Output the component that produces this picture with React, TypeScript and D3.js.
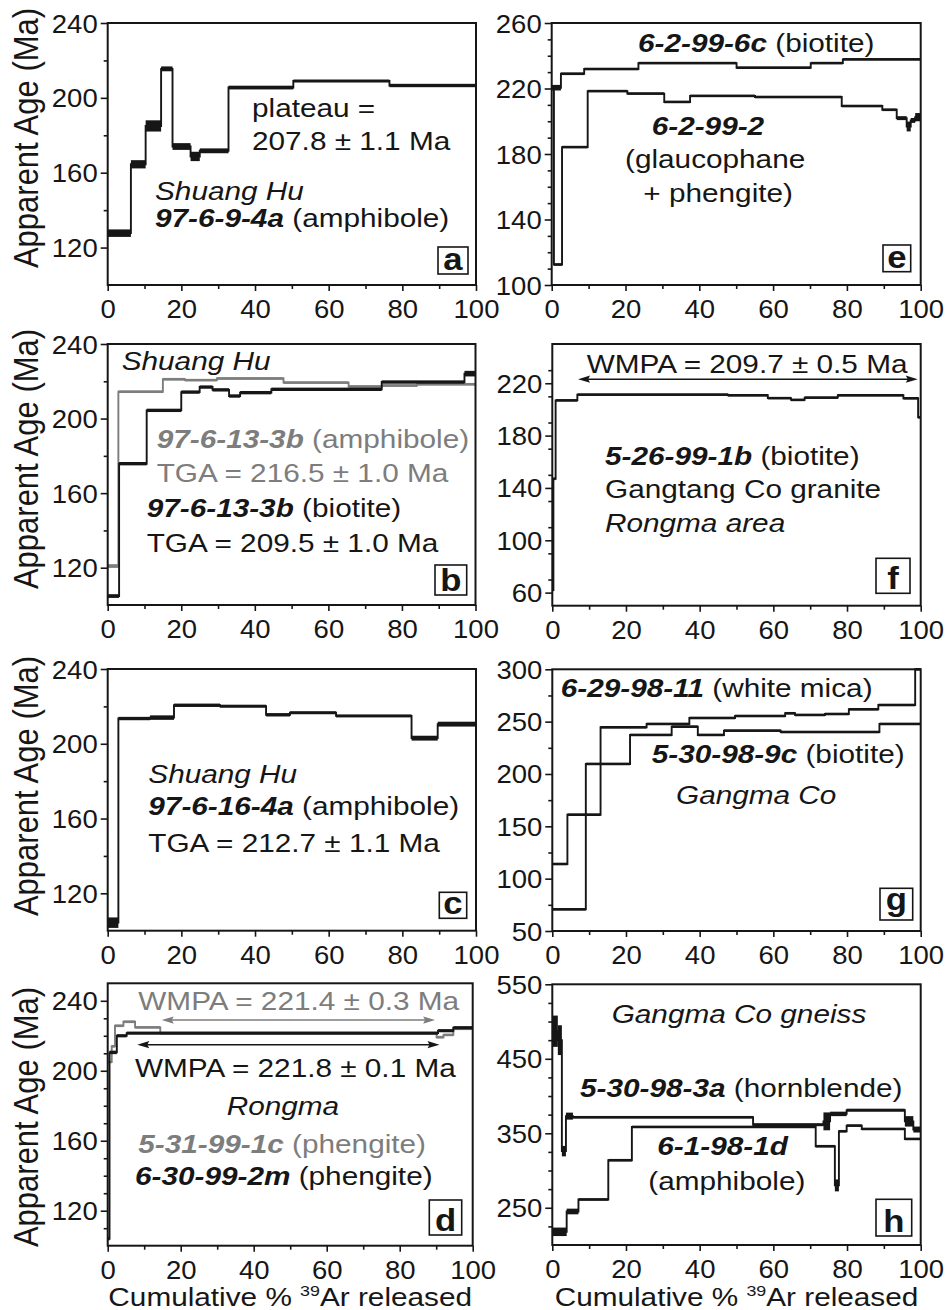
import React, { useEffect, useRef } from 'react';
import * as d3 from 'd3';

const FONT = '"Liberation Sans", Arial, Helvetica, sans-serif';
const INK = '#161616';
const GREY = '#7d7d7d';
const SX = 1.19; // the figure is stretched sideways
const TSX = 1.1;

// x axis, cumulative % 39Ar released
const xTicks = [0, 20, 40, 60, 80, 100];
const xMinor = [10, 30, 50, 70, 90];

// y tick labels
const ticksABC = [120, 160, 200, 240];
const ticksD = [120, 160, 200, 240];
const ticksE = [100, 140, 180, 220, 260];
const ticksF = [60, 100, 140, 180, 220];
const ticksG = [50, 100, 150, 200, 250, 300];
const ticksH = [250, 350, 450, 550];

// a: 97-6-9-4a amphibole
const cumA = [0, 6.3, 10.3, 14.5, 17.6, 22.5, 25, 32.8, 50.4, 76.5, 100];
const ageA = [127.7, 164.5, 185, 215.5, 174, 168.7, 171.7, 205.5, 209, 206.6];
const errA = [2, 2.2, 3, 1.3, 1.8, 2.5, 1.3, 1, 0.8, 0.9];

// b: 97-6-13-3b amphibole (grey) and biotite
const cumB1 = [0, 2.9, 15, 21, 29.7, 47.8, 65.5, 74.6, 84.1, 100];
const ageB1 = [120.9, 214.4, 221.1, 220.6, 221.5, 219.3, 217.2, 217.7, 218.4];
const errB1 = [1, 0.7, 0.7, 0.7, 0.7, 0.7, 0.7, 0.7, 0.7];
const cumB2 = [0, 3.1, 10.6, 20, 25, 28.5, 33, 36, 44.5, 74.5, 97, 100];
const ageB2 = [104.8, 175.8, 204.4, 214.2, 216.9, 215.4, 212.1, 213.9, 215.7, 219.6, 224.1];
const errB2 = [1, 0.9, 0.9, 0.9, 0.9, 0.9, 0.9, 0.9, 0.9, 0.9, 1.5];

// c: 97-6-16-4a amphibole
const cumC = [0, 2.9, 11.5, 18, 30.5, 43, 49.5, 62, 82.5, 89.6, 100];
const ageC = [104.3, 213.5, 214, 220.6, 220.1, 215.5, 216.6, 214.9, 203, 210.5];
const errC = [2.8, 0.9, 1.2, 0.9, 0.8, 0.9, 0.8, 0.8, 1.3, 1.3];

// d: 5-31-99-1c phengite (grey) and 6-30-99-2m phengite
const cumD1 = [0, 1.1, 2, 4.3, 7.5, 14.4, 90.1, 92, 94.7, 100];
const ageD1 = [205, 214, 225.7, 228, 224.8, 221.5, 219.2, 220.5, 224];
const errD1 = [0.6, 0.6, 0.6, 0.6, 0.6, 0.6, 0.6, 0.6, 0.6];
const cumD2 = [0, 0.5, 2.5, 5.2, 90.5, 94.7, 100];
const ageD2 = [104, 210.5, 220, 221.5, 222.9, 224.6];
const errD2 = [1, 1, 0.9, 0.9, 0.9, 0.9];
const wmpaD1 = [14.8, 89.7, 229];
const wmpaD2 = [8.1, 90.9, 214.9];

// e: 6-2-99-6c biotite and 6-2-99-2 glaucophane + phengite
const cumE1 = [0, 2.5, 8.8, 23.5, 50.1, 70.2, 78.9, 100];
const ageE1 = [220.5, 229, 231.9, 235.5, 232.7, 235.5, 237.8];
const errE1 = [1.7, 0.8, 0.6, 0.8, 0.8, 0.8, 0.8];
const cumE2 = [0, 0.6, 2.8, 9.75, 20.5, 30.5, 37.5, 55.1, 78.6, 89.6, 93.5, 96.2, 97.3, 98.5, 100];
const ageE2 = [220, 112.5, 184.2, 218.4, 216.9, 211.8, 215.5, 214.8, 209.3, 207, 201.9, 196.8, 200.5, 202.5];
const errE2 = [0.8, 0.8, 0.6, 0.6, 0.6, 0.6, 0.6, 0.6, 0.6, 0.8, 1.2, 3, 1.5, 2.5];

// f: 5-26-99-1b biotite
const cumF = [0, 0.3, 0.9, 6.8, 47.7, 58.5, 64.8, 68.5, 77.5, 95.3, 99.3, 100];
const ageF = [62, 147, 206.9, 211.3, 210.8, 208.6, 207.3, 209, 210.8, 208.5, 194];
const errF = [1, 1, 1, 0.7, 0.7, 0.7, 0.7, 0.7, 0.7, 0.7, 1];
const wmpaF = [7, 99.2, 223.1];

// g: 6-29-98-11 white mica and 5-30-98-9c biotite
const cumG1 = [0, 4.1, 13.1, 25.6, 37.2, 49.6, 63.2, 65.9, 74, 80.5, 88.5, 98.5, 100];
const ageG1 = [114, 161.1, 244.6, 247.8, 253.5, 255.4, 258, 256.4, 257.3, 261.8, 265.9, 300];
const errG1 = [1, 1, 1, 1, 1, 1, 1, 1, 1, 1, 1, 1];
const cumG2 = [0, 9.1, 21.1, 32.4, 39.5, 46.6, 62, 88.8, 100];
const ageG2 = [70.7, 209.6, 237.3, 245.2, 237.3, 241.4, 240.1, 247.8];
const errG2 = [1, 1, 1, 1, 1, 1, 1, 1];

// h: 5-30-98-3a hornblende and 6-1-98-1d amphibole
const cumH1 = [0, 1.5, 2.6, 3.7, 5.6, 54.5, 73.6, 75.4, 79.9, 95.7, 98, 100];
const ageH1 = [487, 475, 326, 373, 371.5, 361.5, 366, 376, 381, 366, 355];
const errH1 = [21, 20, 7, 4.7, 1.5, 2, 12, 3, 2, 7, 4];
const cumH2 = [0, 3.9, 7.1, 15.2, 21.6, 71.5, 76.7, 77.8, 79.9, 84, 95.7, 100];
const ageH2 = [217.7, 245, 261.1, 313.8, 358.5, 332.6, 280, 352.7, 360.3, 355.8, 342.4];
const errH2 = [5.7, 3.8, 1.5, 1.5, 1.5, 1.5, 8, 1.5, 1.5, 1.5, 1.5];

const panels = [
  { letter: 'a', left: 107.7, right: 476, top: 23, bottom: 285, dom: [100, 240], yTicks: ticksABC, minor: 20, box: [438, 247, 30, 27], yTitle: 138,
    series: [{ cum: cumA, age: ageA, err: errA, color: INK }] },
  { letter: 'b', left: 107.7, right: 475.5, top: 344, bottom: 605, dom: [100, 240], yTicks: ticksABC, minor: 20, box: [435, 565, 31.7, 30], yTitle: 459,
    series: [{ cum: cumB1, age: ageB1, err: errB1, color: GREY }, { cum: cumB2, age: ageB2, err: errB2, color: INK }] },
  { letter: 'c', left: 107.7, right: 476, top: 669, bottom: 930.7, dom: [100, 240], yTicks: ticksABC, minor: 20, box: [439.3, 892.3, 27.4, 26], yTitle: 786,
    series: [{ cum: cumC, age: ageC, err: errC, color: INK }] },
  { letter: 'd', left: 107.7, right: 472.7, top: 983.3, bottom: 1245.7, dom: [100, 250], yTicks: ticksD, minor: 10, box: [429.3, 1200, 32.4, 35], yTitle: 1117, xTitle: true,
    series: [{ cum: cumD1, age: ageD1, err: errD1, color: GREY }, { cum: cumD2, age: ageD2, err: errD2, color: INK }],
    arrows: [{ r: wmpaD1, color: GREY }, { r: wmpaD2, color: INK }] },
  { letter: 'e', left: 551.7, right: 920.7, top: 23, bottom: 285, dom: [100, 260], yTicks: ticksE, minor: 10, box: [883, 245, 27.7, 26.7],
    series: [{ cum: cumE1, age: ageE1, err: errE1, color: INK }, { cum: cumE2, age: ageE2, err: errE2, color: INK }] },
  { letter: 'f', left: 552.3, right: 920.7, top: 344, bottom: 605.7, dom: [50, 250], yTicks: ticksF, minor: 20, box: [876, 558.3, 34, 35],
    series: [{ cum: cumF, age: ageF, err: errF, color: INK }], arrows: [{ r: wmpaF, color: INK }] },
  { letter: 'g', left: 552.3, right: 920.7, top: 669.3, bottom: 931, dom: [50, 300], yTicks: ticksG, minor: 25, box: [880, 888.3, 32.7, 31.7],
    series: [{ cum: cumG1, age: ageG1, err: errG1, color: INK }, { cum: cumG2, age: ageG2, err: errG2, color: INK }] },
  { letter: 'h', left: 552.3, right: 920.7, top: 984.3, bottom: 1245, dom: [200, 550], yTicks: ticksH, minor: 25, box: [876, 1199.3, 35.7, 36.7], xTitle: true,
    series: [{ cum: cumH1, age: ageH1, err: errH1, color: INK }, { cum: cumH2, age: ageH2, err: errH2, color: INK }] },
];

// annotation lines: [text, bold-italic?, italic?]
const notes = [
  { x: 252, y: 117, parts: [['plateau =']] },
  { x: 252, y: 150, parts: [['207.8 ± 1.1 Ma']] },
  { x: 155, y: 200, parts: [['Shuang Hu', 0, 1]] },
  { x: 155, y: 227, parts: [['97-6-9-4a', 1], [' (amphibole)']] },

  { x: 638, y: 51.7, parts: [['6-2-99-6c', 1], [' (biotite)']] },
  { x: 651.7, y: 135, parts: [['6-2-99-2', 1]] },
  { x: 625, y: 168.3, parts: [['(glaucophane']] },
  { x: 643.3, y: 202, parts: [['+ phengite)']] },

  { x: 121.7, y: 370, parts: [['Shuang Hu', 0, 1]] },
  { x: 156.7, y: 448.3, color: GREY, parts: [['97-6-13-3b', 1], [' (amphibole)']] },
  { x: 156.7, y: 481.7, color: GREY, parts: [['TGA = 216.5 ± 1.0 Ma']] },
  { x: 146.7, y: 516.7, parts: [['97-6-13-3b', 1], [' (biotite)']] },
  { x: 146.7, y: 551.7, parts: [['TGA = 209.5 ± 1.0 Ma']] },

  { x: 586.7, y: 373.3, parts: [['WMPA = 209.7 ± 0.5 Ma']] },
  { x: 605, y: 465, parts: [['5-26-99-1b', 1], [' (biotite)']] },
  { x: 605, y: 498.3, parts: [['Gangtang Co granite']] },
  { x: 605, y: 531.7, parts: [['Rongma area', 0, 1]] },

  { x: 148.3, y: 783.3, parts: [['Shuang Hu', 0, 1]] },
  { x: 148.3, y: 815, parts: [['97-6-16-4a', 1], [' (amphibole)']] },
  { x: 148.3, y: 851.7, parts: [['TGA = 212.7 ± 1.1 Ma']] },

  { x: 560.7, y: 696.7, parts: [['6-29-98-11', 1], [' (white mica)']] },
  { x: 651.7, y: 763.3, parts: [['5-30-98-9c', 1], [' (biotite)']] },
  { x: 676, y: 804, parts: [['Gangma Co', 0, 1]] },

  { x: 138.3, y: 1010, color: GREY, parts: [['WMPA = 221.4 ± 0.3 Ma']] },
  { x: 135, y: 1076.7, parts: [['WMPA = 221.8 ± 0.1 Ma']] },
  { x: 226.7, y: 1115, parts: [['Rongma', 0, 1]] },
  { x: 138.3, y: 1153.3, color: GREY, parts: [['5-31-99-1c', 1], [' (phengite)']] },
  { x: 135, y: 1185, parts: [['6-30-99-2m', 1], [' (phengite)']] },

  { x: 611.7, y: 1023.3, parts: [['Gangma Co gneiss', 0, 1]] },
  { x: 580, y: 1096.7, parts: [['5-30-98-3a', 1], [' (hornblende)']] },
  { x: 657.3, y: 1155, parts: [['6-1-98-1d', 1]] },
  { x: 648.3, y: 1190, parts: [['(amphibole)']] },
];

function drawPanel(svg, p) {
  const x = d3.scaleLinear().domain([0, 100]).range([p.left, p.right]);
  const y = d3.scaleLinear().domain(p.dom).range([p.bottom, p.top]);
  const g = svg.append('g');
  const line = d3.line().x((d) => x(d[0])).y((d) => y(d[1]));

  p.series.forEach((s) => {
    const steps = s.age.map((a, i) => ({ a, e: s.err[i], x0: s.cum[i], x1: s.cum[i + 1] }));
    const pts = steps.flatMap((d) => [[d.x0, d.a], [d.x1, d.a]]);
    g.append('path')
      .attr('d', line(pts))
      .attr('fill', 'none')
      .attr('stroke', s.color)
      .attr('stroke-width', 1.9);
    const hh = (d) => Math.max(y(d.a - d.e) - y(d.a + d.e), 2.6);
    g.append('g')
      .selectAll('rect')
      .data(steps)
      .join('rect')
      .attr('x', (d) => x(d.x0))
      .attr('width', (d) => x(d.x1) - x(d.x0))
      .attr('y', (d) => y(d.a) - hh(d) / 2)
      .attr('height', hh)
      .attr('fill', s.color);
  });

  (p.arrows || []).forEach((ar) => {
    const ay = y(ar.r[2]);
    const a0 = x(ar.r[0]);
    const a1 = x(ar.r[1]);
    g.append('line')
      .attr('x1', a0 + 4).attr('x2', a1 - 4)
      .attr('y1', ay).attr('y2', ay)
      .attr('stroke', ar.color).attr('stroke-width', 1.6);
    g.append('path')
      .attr('d', `M${a0},${ay} l12,-3.6 l-2,3.6 l2,3.6 z M${a1},${ay} l-12,-3.6 l2,3.6 l-2,3.6 z`)
      .attr('fill', ar.color);
  });

  g.append('rect')
    .attr('x', p.left).attr('y', p.top)
    .attr('width', p.right - p.left).attr('height', p.bottom - p.top)
    .attr('fill', 'none').attr('stroke', INK).attr('stroke-width', 2);

  const styleAxis = (sel) => {
    sel.select('.domain').remove();
    sel.selectAll('line').attr('stroke', INK).attr('stroke-width', 1.6);
  };

  const yMinor = d3
    .range(p.dom[0], p.dom[1] + 0.01, p.minor)
    .filter((v) => !p.yTicks.includes(v) && v > p.dom[0] && v < p.dom[1]);
  g.append('g')
    .attr('transform', `translate(${p.left},0)`)
    .call(d3.axisLeft(y).tickValues(yMinor).tickSize(4).tickFormat(() => ''))
    .call(styleAxis);
  const ya = g.append('g')
    .attr('transform', `translate(${p.left},0)`)
    .call(d3.axisLeft(y).tickValues(p.yTicks).tickSize(7).tickFormat(d3.format('d')))
    .call(styleAxis);
  ya.selectAll('text')
    .attr('x', null)
    .attr('dy', '0.36em')
    .attr('transform', `translate(-10,0) scale(${TSX},1)`)
    .attr('font-size', 25)
    .attr('font-family', FONT)
    .attr('fill', INK);

  g.append('g')
    .attr('transform', `translate(0,${p.bottom})`)
    .call(d3.axisBottom(x).tickValues(xMinor).tickSize(4).tickFormat(() => ''))
    .call(styleAxis);
  const xa = g.append('g')
    .attr('transform', `translate(0,${p.bottom})`)
    .call(d3.axisBottom(x).tickValues(xTicks).tickSize(6).tickFormat(d3.format('d')))
    .call(styleAxis);
  xa.selectAll('text')
    .attr('y', null)
    .attr('dy', null)
    .attr('transform', `translate(0,33) scale(${TSX},1)`)
    .attr('font-size', 25)
    .attr('font-family', FONT)
    .attr('fill', INK);

  // panel letter in its little box
  const [bx, by, bw, bh] = p.box;
  g.append('rect')
    .attr('x', bx).attr('y', by).attr('width', bw).attr('height', bh)
    .attr('fill', '#fff').attr('stroke', INK).attr('stroke-width', 1.6);
  g.append('text')
    .attr('transform', `translate(${bx + bw / 2},${by + bh - (p.letter === 'g' ? 10 : 4)}) scale(1.12,1)`)
    .attr('text-anchor', 'middle')
    .attr('font-family', FONT)
    .attr('font-weight', 'bold')
    .attr('font-size', 31)
    .attr('fill', INK)
    .text(p.letter);

  if (p.yTitle) {
    g.append('text')
      .attr('transform', `translate(38,${p.yTitle}) scale(1.12,1) rotate(-90)`)
      .attr('text-anchor', 'middle')
      .attr('font-family', FONT)
      .attr('font-size', 31)
      .attr('fill', INK)
      .text('Apparent Age (Ma)');
  }
  if (p.xTitle) {
    const t = g.append('text')
      .attr('transform', `translate(${(p.left + p.right) / 2},1306) scale(${SX},1)`)
      .attr('text-anchor', 'middle')
      .attr('font-family', FONT)
      .attr('font-size', 25)
      .attr('fill', INK)
      .style('white-space', 'pre');
    t.append('tspan').text('Cumulative % ');
    t.append('tspan').attr('font-size', 15).attr('dy', -10).text('39');
    t.append('tspan').attr('dy', 10).text('Ar released');
  }
}

export default function App() {
  const svgRef = useRef(null);

  useEffect(() => {
    const svg = d3.select(svgRef.current);
    svg.selectAll('*').remove();
    svg.append('rect').attr('width', 952).attr('height', 1310).attr('fill', '#fff');

    panels.forEach((p) => drawPanel(svg, p));

    notes.forEach((n) => {
      const t = svg.append('text')
        .attr('transform', `translate(${n.x},${n.y}) scale(${SX},1)`)
        .attr('font-family', FONT)
        .attr('font-size', 25)
        .attr('fill', n.color || INK)
        .style('white-space', 'pre');
      n.parts.forEach((pt) => {
        t.append('tspan')
          .attr('font-weight', pt[1] ? 'bold' : 'normal')
          .attr('font-style', pt[1] || pt[2] ? 'italic' : 'normal')
          .text(pt[0]);
      });
    });
  }, []);

  return (
    <svg
      ref={svgRef}
      width={952}
      height={1310}
      style={{ position: 'absolute', left: 0, top: 0, display: 'block' }}
    />
  );
}
